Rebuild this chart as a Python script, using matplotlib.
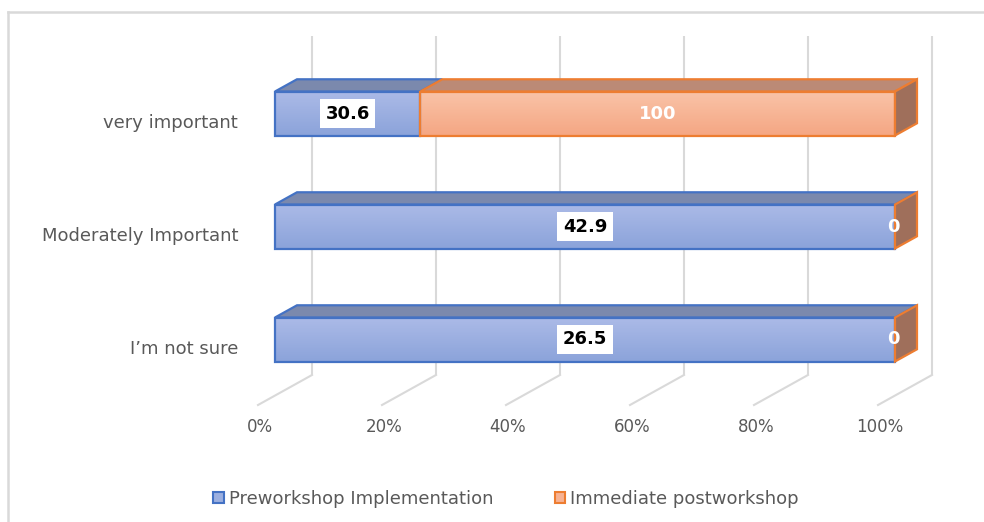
import matplotlib
matplotlib.use('Agg')
import matplotlib.pyplot as plt
import numpy as np
from matplotlib.patches import Polygon, Patch
from matplotlib.lines import Line2D
from matplotlib.colors import to_rgb

# ---------------- data ----------------
categories = ["I\u2019m not sure", "Moderately Important", "very important"]
pre = [26.5, 42.9, 30.6]
post = [0, 0, 100]
series_names = ["Preworkshop Implementation", "Immediate postworkshop"]
xticks = [0, 20, 40, 60, 80, 100]
xtick_labels = ["0%", "20%", "40%", "60%", "80%", "100%"]

# ---------------- styles ----------------
BLUE_EDGE = "#4472c4"
ORANGE_EDGE = "#ed7d31"
BLUE_TOP = "#7b89ad"
ORANGE_TOP = "#bb8a76"
ORANGE_SIDE = "#9f6f5b"
GRID = "#d9d9d9"
TXT = "#595959"
FONT = "DejaVu Sans"

W, H = 984, 522
fig = plt.figure(figsize=(W / 100, H / 100), dpi=100)
ax = fig.add_axes([0, 0, 1, 1])
ax.axis('off')

PX = 6.2      # pixels per percent point
PY = 113.0    # pixels per category step
X0 = 275.0    # pixel x of 0% on bar front face
Y0 = 339.5    # pixel y of first category centre (front face)
SLOPE = 30 / 54.0


def dep(px):
    """depth offset (data units) for a horizontal pixel depth px"""
    return px / PX, px * SLOPE / PY


bar_dx, bar_dy = dep(22)
wall_dx, wall_dy = dep(37)
floor_dx, floor_dy = dep(-17)
half_h = 22 / PY

floor_back_y = (Y0 - 375) / PY
wall_top_y = (Y0 - 36) / PY

# ---------------- walls / gridlines ----------------
for t in xticks:
    xb = t + wall_dx
    ax.plot([xb, xb], [floor_back_y, wall_top_y], color=GRID, lw=1.5,
            solid_capstyle='butt', zorder=1)
    ax.plot([xb, t + floor_dx], [floor_back_y, floor_back_y - (wall_dy - floor_dy)],
            color=GRID, lw=1.5, zorder=1)

for t, lab in zip(xticks, xtick_labels):
    ax.text(t - 15 / PX, (Y0 - 427) / PY, lab, ha='center', va='center',
            fontsize=12, color=TXT, family=FONT)

for i, c in enumerate(categories):
    ax.text((238 - X0) / PX, i - 9.5 / PY, c, ha='right', va='center',
            fontsize=13, color=TXT, family=FONT)


def grad_face(x0, x1, ylo, yhi, ctop, cbot, edge, z):
    poly = Polygon([[x0, ylo], [x1, ylo], [x1, yhi], [x0, yhi]], closed=True,
                   facecolor='none', edgecolor=edge, lw=1.6, zorder=z + 0.5)
    ax.add_patch(poly)
    if x1 - x0 <= 0:
        return
    a = np.array(to_rgb(ctop)); b = np.array(to_rgb(cbot))
    n = 64
    g = np.linspace(0, 1, n)[:, None]
    img = (a[None, :] * (1 - g) + b[None, :] * g)[:, None, :]
    im = ax.imshow(img, extent=[x0, x1, ylo, yhi], origin='upper',
                   aspect='auto', interpolation='bilinear', zorder=z)
    clip = Polygon([[x0, ylo], [x1, ylo], [x1, yhi], [x0, yhi]], closed=True,
                   transform=ax.transData, facecolor='none', edgecolor='none')
    im.set_clip_path(clip)


# ---------------- bars ----------------
for i in range(len(categories)):
    tot = pre[i] + post[i]
    s_pre = pre[i] / tot * 100
    s_post = post[i] / tot * 100
    yb, yt = i - half_h, i + half_h
    segs = [(0, s_pre, BLUE_TOP, ('#abbae7', '#8ba3da'), BLUE_EDGE),
            (s_pre, s_pre + s_post, ORANGE_TOP, ('#f9c3a7', '#f5a683'), ORANGE_EDGE)]
    for (a, b, ctop, (cf1, cf2), edge) in segs:
        if b - a > 0:
            top = Polygon([[a, yt], [b, yt], [b + bar_dx, yt + bar_dy], [a + bar_dx, yt + bar_dy]],
                          closed=True, facecolor=ctop, edgecolor=edge, lw=1.6, zorder=3)
            ax.add_patch(top)
            grad_face(a, b, yb, yt, cf1, cf2, edge, 4)
    # right side face belongs to last series
    xe = s_pre + s_post
    side = Polygon([[xe, yb], [xe, yt], [xe + bar_dx, yt + bar_dy], [xe + bar_dx, yb + bar_dy]],
                   closed=True, facecolor=ORANGE_SIDE, edgecolor=ORANGE_EDGE, lw=1.6, zorder=5)
    ax.add_patch(side)
    # labels
    ax.text(s_pre / 2, i, f"{pre[i]:g}", ha='center', va='center', fontsize=13,
            fontweight='bold', color='black', family=FONT, zorder=8,
            bbox=dict(boxstyle='square,pad=0.3', facecolor='white', edgecolor='none'))
    ax.text(s_pre + s_post / 2 - (0.3 if s_post == 0 else 0), i, f"{post[i]:g}", ha='center',
            va='center', fontsize=13, fontweight='bold', color='white', family=FONT, zorder=8)

ax.set_xlim(-X0 / PX, (W - X0) / PX)
ax.set_ylim((Y0 - H) / PY, Y0 / PY)

# ---------------- chart border ----------------
fig.add_artist(Line2D([8 / W, 8 / W], [0, 1 - 12 / H], color=GRID, lw=1.8))
fig.add_artist(Line2D([8 / W, 1], [1 - 12 / H, 1 - 12 / H], color=GRID, lw=1.8))

# ---------------- legend ----------------
handles = [Patch(facecolor='#9bafe0', edgecolor=BLUE_EDGE, lw=1.5),
           Patch(facecolor='#f7b293', edgecolor=ORANGE_EDGE, lw=1.5)]
fig.legend(handles, series_names, loc='center', bbox_to_anchor=(506 / W, 1 - 499 / H),
           ncol=2, frameon=False, handlelength=0.6, handleheight=0.6,
           handletextpad=0.25, columnspacing=3.4,
           prop=dict(family=FONT, size=13), labelcolor=TXT)

fig.savefig('out.png', dpi=100, facecolor='white')
